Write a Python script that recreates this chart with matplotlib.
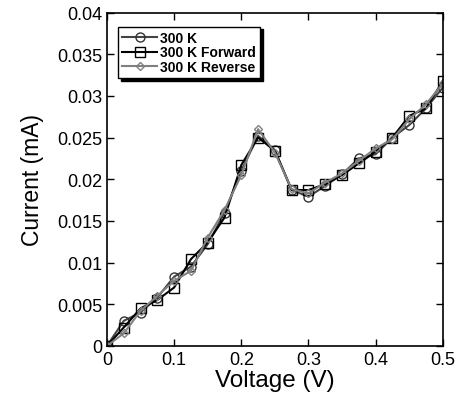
import matplotlib
matplotlib.use("Agg")
import matplotlib.pyplot as plt

plt.rcParams['font.family'] = ['Liberation Sans', 'DejaVu Sans']

voltage = [0, 0.025, 0.05, 0.075, 0.1, 0.125, 0.15, 0.175, 0.2, 0.225, 0.25,
           0.275, 0.3, 0.325, 0.35, 0.375, 0.4, 0.425, 0.45, 0.475, 0.5]
cur_300 = [0, 0.0030, 0.0040, 0.0058, 0.0083, 0.0095, 0.0122, 0.0160, 0.0210, 0.0252, 0.0235,
           0.0187, 0.0179, 0.0192, 0.0206, 0.0225, 0.0230, 0.0250, 0.0265, 0.0285, 0.0310]
cur_fwd = [0, 0.0022, 0.0045, 0.0055, 0.0070, 0.0104, 0.0124, 0.0154, 0.0217, 0.0250, 0.0234,
           0.0187, 0.0187, 0.0194, 0.0205, 0.0219, 0.0233, 0.0250, 0.0276, 0.0285, 0.0318]
cur_rev = [0, 0.0015, 0.0042, 0.0060, 0.0078, 0.0090, 0.0130, 0.0163, 0.0205, 0.0260, 0.0232,
           0.0188, 0.0183, 0.0196, 0.0207, 0.0222, 0.0237, 0.0248, 0.0272, 0.0290, 0.0315]
labels = ['300 K', '300 K Forward', '300 K Reverse']
xticks = [0, 0.1, 0.2, 0.3, 0.4, 0.5]
yticks = [0, 0.005, 0.01, 0.015, 0.02, 0.025, 0.03, 0.035, 0.04]

fig = plt.figure(figsize=(4.57, 4.10), dpi=100)
ax = fig.add_axes([0.234, 0.154, 0.735, 0.813])

ax.plot(voltage, cur_300, color='#444444', lw=1.5, marker='o', ms=6.5, mfc='none',
        mec='#333333', mew=1.0, label=labels[0])
ax.plot(voltage, cur_fwd, color='#000000', lw=1.5, marker='s', ms=6.5, mfc='none',
        mec='#000000', mew=1.0, label=labels[1])
ax.plot(voltage, cur_rev, color='#808080', lw=1.5, marker='D', ms=4, mfc='none',
        mec='#808080', mew=1.0, label=labels[2])

ax.set_xlim(0, 0.5)
ax.set_ylim(0, 0.04)
ax.set_xticks(xticks)
ax.set_xticklabels(['0', '0.1', '0.2', '0.3', '0.4', '0.5'])
ax.set_yticks(yticks)
ax.set_yticklabels(['0', '0.005', '0.01', '0.015', '0.02', '0.025', '0.03', '0.035', '0.04'])
ax.tick_params(direction='in', top=True, right=True, labelsize=13, length=5, width=1)
for s in ax.spines.values():
    s.set_linewidth(1.2)
ax.set_xlabel('Voltage (V)', fontsize=17.5, labelpad=1)
ax.set_ylabel('Current (mA)', fontsize=16.5, labelpad=9)

leg = ax.legend(loc='upper left', bbox_to_anchor=(0.033, 0.958), borderaxespad=0,
                fancybox=False, shadow={'color': 'black', 'alpha': 1.0},
                edgecolor='black', framealpha=1, prop={'weight': 'bold', 'size': 10},
                handlelength=2.5, borderpad=0.3, labelspacing=0.05, handletextpad=0.2)
leg.get_frame().set_linewidth(1.0)

fig.savefig('out.png', dpi=100)
